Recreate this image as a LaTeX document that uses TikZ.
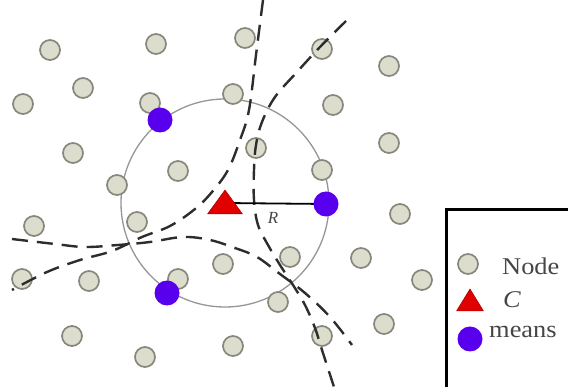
\documentclass[tikz,border=0pt]{standalone}
\usepackage{fontspec}
\setmainfont{Liberation Serif}
\definecolor{nodefill}{RGB}{221,221,205}
\definecolor{nodeedge}{RGB}{135,135,125}
\definecolor{meanc}{RGB}{88,0,238}
\definecolor{tric}{RGB}{225,0,0}
\definecolor{triedge}{RGB}{170,0,0}
\definecolor{dashc}{RGB}{45,45,45}
\definecolor{ringc}{RGB}{150,150,150}
\definecolor{txtc}{RGB}{70,70,70}
\tikzset{
  gnode/.style={circle, draw=nodeedge, fill=nodefill, line width=1.7pt, minimum size=20pt, inner sep=0pt},
  mnode/.style={circle, fill=meanc, minimum size=25pt, inner sep=0pt},
  divline/.style={draw=dashc, line width=2.4pt, dash pattern=on 16pt off 9pt},
  ring/.style={draw=ringc, line width=1.3pt},
  rline/.style={draw=black, line width=1.8pt},
  trishape/.style={fill=tric, draw=triedge, line width=0.5pt, line join=round},
  legtext/.style={text=txtc, font=\fontsize{24}{26}\selectfont, xscale=1.1, inner sep=0pt}
}
\begin{document}
\begin{tikzpicture}[x=1pt,y=-1pt]
\useasboundingbox (0,0) rectangle (568,387);
\clip (0,0) rectangle (568,387);
\fill[white] (0,0) rectangle (568,387);
% range circle
\coordinate (C) at (225,203);
\draw[ring] (C) circle[radius=104];
% nodes
\foreach \p/\n in {(50,50)/n1,(156,44)/n2,(245,38)/n3,(322,49)/n4,(389,66)/n5,
  (83,88)/n6,(23,104)/n7,(150,103)/n8,(233,94)/n9,(333,105)/n10,
  (73,153)/n11,(178,171)/n12,(256,148)/n13,(322,170)/n14,(389,143)/n15,
  (117,185)/n16,(34,226)/n17,(137,222)/n18,(400,214)/n19,
  (22,279)/n20,(89,281)/n21,(178,279)/n22,(223,264)/n23,(290,257)/n24,(361,258)/n25,(422,280)/n26,
  (278,302)/n27,(384,324)/n28,(72,336)/n29,(145,357)/n30,(233,346)/n31,(322,336)/n32}
  \node[gnode] (\n) at \p {};
% dashed division curves
\draw[divline] plot[smooth, tension=0.6] coordinates {(263,0) (256,55) (249,110) (240,140) (228,170) (212,192) (195,209) (170,226) (142,237) (112,251) (80,260) (47,272) (12,290)};
\draw[divline] plot[smooth, tension=0.6] coordinates {(346,21) (320,47) (297,72) (275,97) (262,122) (256,145) (254,170) (254,200) (258,225) (268,245) (280,265) (293,285) (305,305) (315,328) (322,350) (335,390)};
\draw[divline] plot[smooth, tension=0.6] coordinates {(12,239) (55,244) (85,247) (118,245) (150,242) (183,237) (210,240) (235,248) (257,257) (280,274) (305,293) (330,317) (352,345)};
% radius
\coordinate (M2) at (326,204);
\draw[rline] (C) -- (M2);
\node[text=txtc, font=\itshape\fontsize{17}{18}\selectfont] (rlab) at (273,218) {R};
% centre triangle
\filldraw[trishape] (C) ++(0,-13) -- ++(17.5,24) -- ++(-35,0) -- cycle;
% means
\node[mnode] (m1) at (160,120) {};
\node[mnode] (m2) at (M2) {};
\node[mnode] (m3) at (167,293) {};
% legend
\draw[line width=3pt] (446,210) rectangle (600,420);
\node[gnode] (lg1) at (468,264) {};
\coordinate (LC) at (470,301);
\filldraw[trishape] (LC) ++(0,-12) -- ++(13.5,22) -- ++(-27,0) -- cycle;
\node[mnode] (lg3) at (470,339) {};
\node[legtext, anchor=base west] (t1) at (502,275) {Node};
\node[legtext, anchor=base west] (t2) at (503,308) {\itshape C};
\node[legtext, anchor=base west] (t3) at (489,338) {means};
\end{tikzpicture}
\end{document}
